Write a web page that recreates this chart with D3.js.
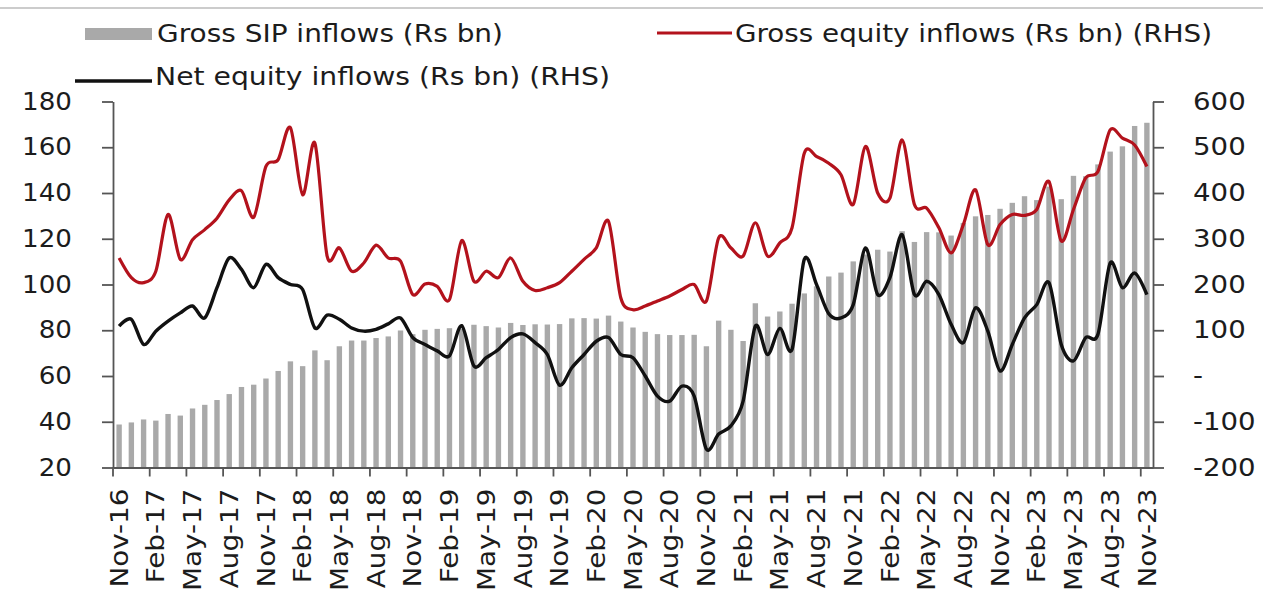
<!DOCTYPE html>
<html>
<head>
<meta charset="utf-8">
<script src="https://cdn.jsdelivr.net/npm/d3@7"></script>
<style>
  html, body { margin: 0; padding: 0; background: #ffffff; }
  svg { display: block; font-family: "DejaVu Sans", "Liberation Sans", sans-serif; }
</style>
</head>
<body>
<svg id="chart" width="1263" height="599"></svg>
<script>
// Monthly categories, Nov-16 to Nov-23
const months = [
  "Nov-16","Dec-16","Jan-17","Feb-17","Mar-17","Apr-17","May-17","Jun-17","Jul-17","Aug-17","Sep-17","Oct-17",
  "Nov-17","Dec-17","Jan-18","Feb-18","Mar-18","Apr-18","May-18","Jun-18","Jul-18","Aug-18","Sep-18","Oct-18",
  "Nov-18","Dec-18","Jan-19","Feb-19","Mar-19","Apr-19","May-19","Jun-19","Jul-19","Aug-19","Sep-19","Oct-19",
  "Nov-19","Dec-19","Jan-20","Feb-20","Mar-20","Apr-20","May-20","Jun-20","Jul-20","Aug-20","Sep-20","Oct-20",
  "Nov-20","Dec-20","Jan-21","Feb-21","Mar-21","Apr-21","May-21","Jun-21","Jul-21","Aug-21","Sep-21","Oct-21",
  "Nov-21","Dec-21","Jan-22","Feb-22","Mar-22","Apr-22","May-22","Jun-22","Jul-22","Aug-22","Sep-22","Oct-22",
  "Nov-22","Dec-22","Jan-23","Feb-23","Mar-23","Apr-23","May-23","Jun-23","Jul-23","Aug-23","Sep-23","Oct-23",
  "Nov-23"
];

// Gross SIP inflows (Rs bn), left axis
const sipInflows = [
  38.8, 39.7, 41.0, 40.5, 43.4, 42.7, 45.8, 47.4, 49.5, 52.1, 55.2, 56.2,
  58.9, 62.2, 66.4, 64.3, 71.2, 66.9, 73.0, 75.5, 75.5, 76.6, 77.3, 79.9,
  78.3, 80.2, 80.6, 80.9, 80.6, 82.4, 81.8, 81.2, 83.2, 82.3, 82.6, 82.5,
  82.7, 85.2, 85.3, 85.1, 86.4, 83.8, 81.2, 79.3, 78.3, 77.9, 77.9, 78.0,
  73.0, 84.2, 80.2, 75.3, 91.8, 86.0, 88.2, 91.6, 96.1, 99.2, 103.5, 105.2,
  110.1, 113.1, 115.2, 114.4, 123.3, 118.6, 122.9, 122.8, 121.4, 126.9, 129.8, 130.4,
  133.1, 135.7, 138.6, 136.9, 142.8, 137.3, 147.5, 147.3, 152.5, 158.1, 160.4, 169.3,
  170.7
];

// Gross equity inflows (Rs bn), right axis
const grossEquity = [
  258, 215, 204, 229, 353, 255, 298, 320, 345, 385, 405, 347,
  458, 473, 543, 396, 509, 262, 280, 229, 247, 286, 258, 251,
  178, 201, 196, 167, 296, 207, 229, 215, 258, 207, 187, 193,
  204, 229, 255, 280, 338, 171, 145, 153, 164, 175, 189, 200,
  164, 302, 280, 262, 335, 262, 291, 324, 487, 480, 465, 440,
  375, 502, 400, 389, 516, 375, 367, 324, 269, 331, 407, 287,
  331, 353, 351, 364, 425, 295, 364, 433, 447, 538, 520, 505,
  458
];

// Net equity inflows (Rs bn), right axis
const netEquity = [
  109, 124, 69, 98, 120, 138, 153, 127, 193, 258, 233, 193,
  244, 215, 200, 189, 105, 133, 124, 105, 98, 102, 114, 127,
  84, 69, 55, 44, 110, 22, 40, 58, 84, 92, 73, 47,
  -20, 18, 47, 76, 84, 47, 40, 0, -44, -55, -22, -44,
  -160, -127, -109, -55, 109, 47, 104, 58, 255, 200, 136, 127,
  156, 280, 178, 215, 309, 178, 207, 178, 113, 73, 149, 98,
  11, 69, 127, 156, 204, 69, 33, 84, 91, 247, 193, 225,
  178
];

const leftTicks = [20, 40, 60, 80, 100, 120, 140, 160, 180];
const rightTicks = [-200, -100, 0, 100, 200, 300, 400, 500, 600];
const rightTickLabels = ["-200", "-100", "-", "100", "200", "300", "400", "500", "600"];
const xTickLabels = months.filter((m, i) => i % 3 === 0);

const legendItems = [
  { key: "sip", label: "Gross SIP inflows (Rs bn)" },
  { key: "gross", label: "Gross equity inflows (Rs bn) (RHS)" },
  { key: "net", label: "Net equity inflows (Rs bn) (RHS)" }
];

// ---- drawing ----
const W = 1263, H = 599;
const plot = { left: 113, right: 1153, top: 101.5, bottom: 467.5 };
const colors = { bar: "#a9a9a9", gross: "#b3121c", net: "#111111", axis: "#555555", text: "#1c1c1c" };

const svg = d3.select("#chart");
svg.append("rect").attr("width", W).attr("height", H).attr("fill", "#ffffff");

// thin rule across the top
svg.append("line")
  .attr("x1", 0).attr("x2", W).attr("y1", 8).attr("y2", 8)
  .attr("stroke", "#cccccc").attr("stroke-width", 2);

const pin = 0.56;
const x = d3.scaleBand().domain(months)
  .range([plot.left, plot.right])
  .paddingInner(pin).paddingOuter(pin / 2);
const step = x.step();
const yL = d3.scaleLinear().domain([20, 180]).range([plot.bottom, plot.top]);
const yR = d3.scaleLinear().domain([-200, 600]).range([plot.bottom, plot.top]);

// stretch text horizontally to the wide face of the original typography
function stretch(sel, k) {
  sel.each(function () {
    const w = this.getComputedTextLength();
    this.setAttribute("textLength", (w * k).toFixed(1));
    this.setAttribute("lengthAdjust", "spacingAndGlyphs");
  });
}

// bars
svg.append("g").selectAll("rect")
  .data(sipInflows)
  .join("rect")
  .attr("x", (d, i) => x(months[i]))
  .attr("y", d => yL(d))
  .attr("width", x.bandwidth())
  .attr("height", d => yL(20) - yL(d))
  .attr("fill", colors.bar);

// smoothed lines
const line = d3.line()
  .x((d, i) => x(months[i]) + x.bandwidth() / 2)
  .y(d => yR(d))
  .curve(d3.curveCardinal.tension(0.1));

svg.append("path").datum(grossEquity)
  .attr("d", line).attr("fill", "none")
  .attr("stroke", colors.gross).attr("stroke-width", 3.2)
  .attr("stroke-linejoin", "round");

svg.append("path").datum(netEquity)
  .attr("d", line).attr("fill", "none")
  .attr("stroke", colors.net).attr("stroke-width", 3.4)
  .attr("stroke-linejoin", "round");

// left axis
const gL = svg.append("g")
  .attr("transform", `translate(${plot.left},0)`)
  .call(d3.axisLeft(yL).tickValues(leftTicks).tickSize(11).tickSizeOuter(0).tickPadding(30)
    .tickFormat(d3.format("d")));

// right axis
const gR = svg.append("g")
  .attr("transform", `translate(${plot.right},0)`)
  .call(d3.axisRight(yR).tickValues(rightTicks).tickSize(11).tickSizeOuter(0).tickPadding(29)
    .tickFormat((d, i) => rightTickLabels[i]));

// bottom axis: labels centred on every third month, ticks on the month boundary
const gB = svg.append("g")
  .attr("transform", `translate(0,${plot.bottom})`)
  .call(d3.axisBottom(x).tickValues(xTickLabels).tickSize(9).tickSizeOuter(0));
gB.selectAll(".tick line").attr("x1", -step / 2).attr("x2", -step / 2);
gB.selectAll(".tick text")
  .attr("transform", "rotate(-90)")
  .attr("text-anchor", "end")
  .attr("x", -21).attr("y", 0).attr("dy", "0.36em");

[gL, gR, gB].forEach(g => {
  g.selectAll("path.domain").attr("stroke", colors.axis).attr("stroke-width", 1.8);
  g.selectAll(".tick line").attr("stroke", colors.axis).attr("stroke-width", 1.8);
  g.selectAll(".tick text")
    .attr("fill", colors.text)
    .style("font-family", "'DejaVu Sans', sans-serif")
    .style("font-size", "24px");
});
stretch(gL.selectAll(".tick text"), 1.09);
stretch(gR.selectAll(".tick text"), 1.15);
stretch(gB.selectAll(".tick text"), 1.16);

// legend
const lg = svg.append("g").style("font-size", "25px").attr("fill", colors.text);
lg.append("rect").attr("x", 85).attr("y", 28).attr("width", 67).attr("height", 12).attr("fill", colors.bar);
lg.append("text").attr("x", 157).attr("y", 41.5).text(legendItems[0].label)
  .attr("textLength", 346).attr("lengthAdjust", "spacingAndGlyphs");

lg.append("line").attr("x1", 657).attr("x2", 732).attr("y1", 33).attr("y2", 33)
  .attr("stroke", colors.gross).attr("stroke-width", 3.2);
lg.append("text").attr("x", 735).attr("y", 41.5).text(legendItems[1].label)
  .attr("textLength", 477).attr("lengthAdjust", "spacingAndGlyphs");

lg.append("line").attr("x1", 75).attr("x2", 152).attr("y1", 81).attr("y2", 81)
  .attr("stroke", colors.net).attr("stroke-width", 3.4);
lg.append("text").attr("x", 155).attr("y", 85).text(legendItems[2].label)
  .attr("textLength", 455).attr("lengthAdjust", "spacingAndGlyphs");
</script>
</body>
</html>
